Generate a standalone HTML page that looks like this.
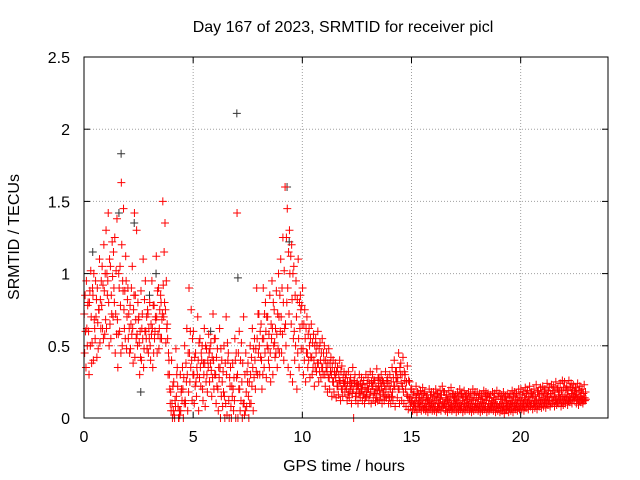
<!DOCTYPE html>
<html><head><meta charset="utf-8"><style>
body{margin:0;background:#fff}
svg{display:block;font-family:"Liberation Sans",sans-serif;font-size:16px}
</style></head><body>
<svg id="chart" width="640" height="480">
<rect width="640" height="480" fill="#fff"/>
<text x="343" y="32" text-anchor="middle" fill="#000">Day 167 of 2023, SRMTID for receiver picl</text>
<text x="344" y="471" text-anchor="middle">GPS time / hours</text>
<text transform="translate(19,237) rotate(-90)" text-anchor="middle">SRMTID / TECUs</text>
<g id="grid"></g><g id="ticks"></g><g id="black"></g><g id="red"></g>
<rect x="84" y="57" width="524" height="361" fill="none" stroke="#000"/>
</svg>
<script>
const xTicks=[0,5,10,15,20];
const yTicks=[0,0.5,1,1.5,2,2.5];
const yTickLabels=["0","0.5","1","1.5","2","2.5"];
const red1=[.72,.95,.60,1.02,.85,.55,.90,1.10,.78,1.20, 1.30,1.42,1.05,.98,1.25,1.38,.90,1.63,1.45,1.12, .90,.78,1.05,1.42,1.30,.70,.88,1.10,.95,.75, .80,.95,.78,1.12,.90,.85,1.50,1.35,.65,.30, .40,.25,.48,.08,.30,.35,.50,.62,.90,.75, .60,.45,.70,.55,.50,.62,.48,.58,.52,.72, .55,.48,.62,.40,.50,.70,.45,.35,.38,.55, 1.42,.60,.52,.70,.45,.38,.50,.62,.55,.90, .72,.65,.90,.80,.70,.85,.95,.75,.88,1.00, 1.10,1.25,1.60,1.45,1.30,1.20,1.05,.95,1.10,.85, .90,.75,.70,.62,.65,.58,.55,.60,.52,.55, .50,.45,.48,.42,.40,.38,.35,.40,.36,.32, .30,.32,.28,.35,.30,.25,.30,.28,.26,.30, .28,.32,.30,.26,.34,.28,.30,.25,.32,.28, .30,.35,.40,.32,.45,.38,.42,.30,.36,.25, .20,.18,.22,.17,.19,.21,.18,.16,.20,.18, .18,.20,.17,.19,.22,.18,.16,.19,.21,.17, .16,.18,.20,.17,.19,.16,.18,.17,.20,.18, .18,.17,.16,.19,.18,.17,.16,.18,.17,.19, .17,.16,.18,.15,.17,.16,.19,.18,.17,.20, .20,.18,.21,.19,.22,.18,.20,.23,.19,.21, .22,.20,.24,.21,.23,.22,.25,.21,.24,.26, .25,.22,.26,.24,.23,.21,.24,.22,.20,.23];
const red2=[.45,.62,.30,.70,.40,.95,.66,.52,1.05,.88, .62,.80,.55,.70,.45,.68,.60,1.20,.75,.95, .55,.48,.62,.42,.58,.52,.40,.35,.60,.72, .50,.62,.55,.70,.48,.80,.92,.75,.55,.20, .10,.02,.15,.00,.05,.20,.12,.30,.45,.40, .30,.25,.40,.35,.20,.38,.30,.45,.33,.40, .30,.20,.35,.25,.15,.30,.12,.08,.20,.40, .30,.20,.25,.10,.18,.15,.30,.35,.40,.55, .50,.40,.55,.60,.48,.45,.62,.52,.58,.70, .70,.80,.65,.90,1.00,.82,.60,.70,.55,.75, .48,.55,.45,.50,.42,.40,.45,.38,.40,.35, .30,.32,.28,.30,.25,.28,.22,.25,.20,.24, .20,.18,.22,.20,.15,.22,.18,.20,.16,.18, .20,.18,.22,.17,.20,.19,.22,.18,.20,.16, .20,.18,.22,.25,.20,.24,.18,.20,.15,.14, .12,.10,.14,.11,.12,.13,.10,.12,.11,.10, .11,.12,.10,.13,.11,.10,.12,.11,.09,.12, .10,.11,.09,.12,.10,.11,.10,.09,.12,.10, .10,.09,.11,.10,.12,.10,.09,.11,.10,.09, .09,.10,.08,.11,.09,.10,.11,.09,.10,.12, .12,.10,.13,.11,.12,.14,.11,.12,.13,.12, .14,.13,.15,.12,.14,.15,.13,.16,.14,.15, .15,.16,.14,.17,.15,.16,.14,.15,.13,.14];
const red3=[.85,.50,.80,.38,1.00,.70,.48,.82,.62,.58, 1.00,.50,.85,1.15,.72,.35,1.05,.50,.62,.48, .72,.65,.38,.85,.50,.30,.62,.48,.55,.45, .40,.35,.60,.45,.62,.55,.70,.52,.30,.10, .00,.00,.30,.00,.18,.00,.10,.05,.25,.12, .10,.15,.05,.22,.12,.08,.18,.25,.15,.20, .10,.05,.00,.08,.00,.02,.00,.00,.05,.00, .00,.05,.00,.02,.08,.00,.10,.05,.20,.30, .30,.20,.35,.28,.40,.25,.30,.42,.35,.45, .45,.40,.50,.35,.30,.25,.40,.20,.35,.48, .30,.25,.35,.28,.30,.22,.32,.25,.28,.30, .22,.18,.20,.15,.18,.14,.16,.12,.15,.18, .12,.14,.10,.00,.12,.10,.14,.12,.10,.15, .12,.10,.14,.11,.12,.13,.10,.12,.14,.10, .10,.12,.08,.14,.10,.12,.10,.08,.06,.08, .05,.06,.04,.07,.05,.06,.05,.04,.06,.05, .05,.04,.06,.05,.07,.05,.04,.06,.05,.06, .04,.05,.06,.04,.05,.06,.05,.04,.05,.06, .05,.04,.05,.06,.04,.05,.06,.05,.04,.05, .04,.05,.03,.06,.04,.05,.04,.06,.05,.06, .06,.05,.07,.06,.08,.06,.07,.06,.08,.07, .08,.07,.09,.08,.10,.08,.09,.10,.08,.09, .10,.09,.11,.10,.12,.10,.09,.11,.10,.12];
const red4=[.60,.78,.88,.52,.68,.82,.75,.62,.92,1.00, .85,1.10,.72,.90,1.02,.58,.78,.95,.88,.70, .62,.90,.75,.68,.80,.60,.72,.82,.70,.62, .65,.78,.70,.88,.75,.68,1.15,.95,.45,.18, .22,.12,.35,.05,.20,.28,.38,.45,.60,.55, .42,.35,.52,.45,.38,.50,.40,.48,.42,.55, .42,.35,.48,.32,.38,.52,.28,.22,.28,.45, .45,.40,.38,.30,.32,.25,.42,.48,.48,.72, .60,.55,.72,.70,.58,.65,.80,.62,.72,.85, .90,1.02,1.25,1.15,1.12,1.00,.85,.82,.80,.78, .65,.62,.58,.55,.52,.50,.50,.48,.45,.45, .40,.38,.38,.35,.32,.32,.30,.32,.28,.28, .25,.25,.24,.26,.22,.23,.24,.23,.21,.24, .24,.25,.26,.22,.27,.24,.26,.22,.26,.22, .25,.28,.32,.28,.35,.30,.32,.25,.26,.20, .16,.14,.18,.14,.16,.17,.14,.13,.16,.14, .15,.16,.14,.16,.18,.14,.13,.15,.16,.14, .13,.15,.16,.14,.15,.13,.14,.13,.16,.14, .14,.13,.13,.15,.15,.14,.12,.14,.13,.15, .13,.13,.14,.12,.14,.12,.15,.14,.13,.16, .16,.14,.17,.15,.17,.16,.15,.18,.16,.17, .18,.16,.19,.17,.19,.18,.20,.18,.19,.21, .20,.19,.21,.20,.19,.18,.19,.18,.17,.18];
const red5=[.35,.80,.50,.90,.62,.42,.75,.95,.55,.68, .95,.65,1.22,.80,.58,1.00,.45,.88,.55,.82, .45,.58,.85,.55,.68,.42,.55,.60,.48,.55, .58,.45,.68,.58,.55,.72,.80,.62,.40,.05, .05,.08,.22,.02,.12,.10,.25,.18,.35,.30, .22,.30,.28,.40,.30,.25,.35,.38,.28,.30, .22,.28,.15,.18,.10,.40,.22,.15,.12,.28, .20,.12,.10,.05,.25,.10,.22,.28,.32,.45, .42,.30,.45,.50,.35,.55,.50,.45,.48,.60, .58,.62,.80,.72,.65,.55,.50,.45,.62,.65, .40,.45,.40,.42,.35,.35,.38,.32,.35,.40, .35,.28,.32,.25,.30,.22,.26,.20,.24,.22, .16,.20,.17,.24,.18,.17,.20,.16,.14,.20, .16,.22,.18,.14,.22,.16,.18,.15,.24,.14, .15,.22,.28,.20,.30,.22,.26,.16,.12,.11, .09,.08,.10,.08,.09,.08,.07,.08,.09,.07, .08,.07,.08,.09,.09,.07,.08,.08,.07,.09, .07,.08,.08,.07,.08,.09,.07,.07,.08,.08, .07,.07,.08,.08,.07,.07,.08,.08,.07,.07, .07,.07,.06,.08,.07,.07,.08,.08,.07,.09, .09,.08,.10,.09,.10,.10,.09,.09,.10,.10, .11,.10,.12,.10,.12,.12,.11,.13,.11,.12, .13,.12,.13,.14,.14,.13,.12,.13,.12,.13];
const blackTimes=[1.6,1.7,7.0,7.05,9.3,9.4,3.3,0.4,2.6,5.8,3.0,2.3];
const blackValues=[1.42,1.83,2.11,.97,1.60,1.22,1.0,1.15,.18,.6,.85,1.35];
const redTimes=red1.map((_,i)=>i/10+0.05);
const X0=84,X1=608,Y0=418,Y1=57;
const xs=t=>X0+(t/24)*(X1-X0);
const ys=v=>Y0-(v/2.5)*(Y0-Y1);
const NS="http://www.w3.org/2000/svg";
function mk(tag,attrs,parent){const e=document.createElementNS(NS,tag);for(const k in attrs)e.setAttribute(k,attrs[k]);parent.appendChild(e);return e;}
const grid=document.getElementById('grid'),ticks=document.getElementById('ticks');
xTicks.forEach(t=>{const x=xs(t);
 if(t>0){const g=mk('line',{x1:x,x2:x,y1:Y1,y2:Y0,stroke:'#a0a0a0','stroke-dasharray':'1,2'},grid);
 }
 mk('line',{x1:x,x2:x,y1:Y0,y2:Y0-6,stroke:'#000'},ticks);mk('line',{x1:x,x2:x,y1:Y1,y2:Y1+6,stroke:'#000'},ticks);
 const l=mk('text',{x:x,y:Y0+24,'text-anchor':'middle'},ticks);l.textContent=t;
 });
yTicks.forEach((v,i)=>{const y=ys(v);
 if(v>0&&v<2.5){const g=mk('line',{x1:X0,x2:X1,y1:y,y2:y,stroke:'#a0a0a0','stroke-dasharray':'1,2'},grid);
 }
 mk('line',{x1:X0,x2:X0+6,y1:y,y2:y,stroke:'#000'},ticks);mk('line',{x1:X1,x2:X1-6,y1:y,y2:y,stroke:'#000'},ticks);
 const l=mk('text',{x:X0-14,y:y+6,'text-anchor':'end'},ticks);l.textContent=yTickLabels[i];
 });
function plus(t,v,col,parent){const x=xs(t),y=ys(v);
 const p=mk('path',{d:`M${x-4},${y}H${x+4}M${x},${y-4}V${y+4}`,stroke:col,'stroke-width':1,fill:'none'},parent);
 }
const bg=document.getElementById('black'),rg=document.getElementById('red');
blackTimes.forEach((t,i)=>plus(t,blackValues[i],'#333',bg));
[red1,red2,red3,red4,red5].forEach((s,k)=>s.forEach((v,i)=>plus(redTimes[i]+(k-2)*0.02,v,'#f00',rg)));
</script>
</body></html>
